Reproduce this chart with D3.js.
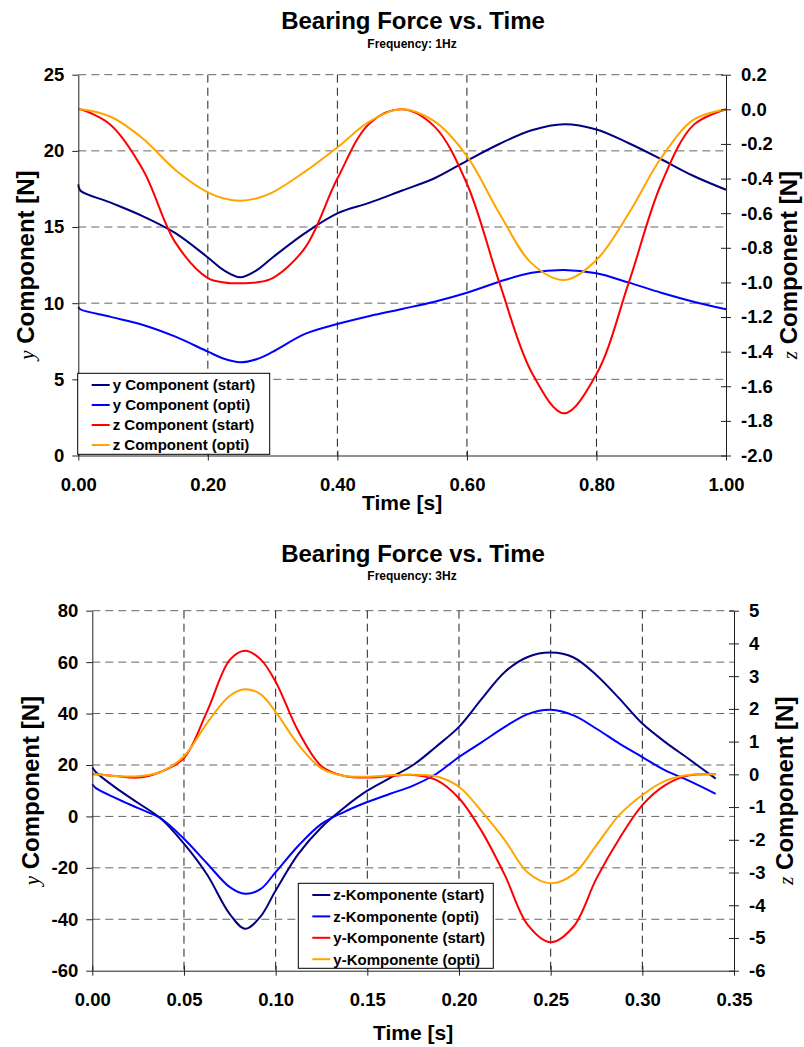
<!DOCTYPE html>
<html>
<head>
<meta charset="utf-8">
<script src="https://cdn.jsdelivr.net/npm/d3@7"></script>
<style>
  body { margin: 0; background: #fff; }
  svg { display: block; font-family: 'Liberation Sans', Arial, sans-serif; font-weight: bold; }
</style>
</head>
<body>
<svg id="chart" width="804" height="1047"></svg>
<script>
// ---- 1 Hz chart data ----
const time1 = [0, 0.003, 0.05, 0.1, 0.15, 0.2, 0.225, 0.25, 0.275, 0.3, 0.35, 0.4, 0.45, 0.5,
  0.55, 0.6, 0.65, 0.7, 0.75, 0.8, 0.85, 0.9, 0.95, 1.0]
const yStart1 = [17.8, 17.4, 16.6, 15.7, 14.6, 13.0, 12.15, 11.7, 12.15, 13.0, 14.6, 15.9, 16.6, 17.4,
  18.2, 19.35, 20.45, 21.35, 21.75, 21.4, 20.5, 19.45, 18.35, 17.45]
const yOpti1 = [9.75, 9.6, 9.1, 8.57, 7.8, 6.82, 6.35, 6.12, 6.32, 6.8, 7.98, 8.63, 9.16, 9.62,
  10.1, 10.69, 11.41, 12.0, 12.18, 11.96, 11.35, 10.69, 10.1, 9.6]
const zStart1 = [0, 0, -0.09, -0.35, -0.77, -0.975, -1.0, -1.005, -1.0, -0.975, -0.8, -0.4, -0.08, 0,
  -0.1, -0.43, -1.0, -1.52, -1.756, -1.53, -1.0, -0.43, -0.09, 0]
const zOpti1 = [0, 0, -0.043, -0.17, -0.35, -0.48, -0.515, -0.528, -0.515, -0.48, -0.36, -0.22, -0.07, 0,
  -0.07, -0.27, -0.6, -0.89, -0.986, -0.87, -0.6, -0.28, -0.06, 0]
const xTicks1 = [0, 0.2, 0.4, 0.6, 0.8, 1.0]
const leftTicks1 = [0, 5, 10, 15, 20, 25]
const rightTicks1 = [-2.0, -1.8, -1.6, -1.4, -1.2, -1.0, -0.8, -0.6, -0.4, -0.2, 0.0, 0.2]
const legend1 = ['y Component (start)', 'y Component (opti)', 'z Component (start)', 'z Component (opti)']

// ---- 3 Hz chart data ----
const time3 = [0, 0.002, 0.0125, 0.025, 0.0375, 0.05, 0.0625, 0.075, 0.0833, 0.0917, 0.1, 0.1125,
  0.125, 0.1375, 0.15, 0.1625, 0.175, 0.1875, 0.2, 0.2125, 0.225, 0.2375, 0.25, 0.2625, 0.275,
  0.2875, 0.3, 0.3125, 0.325, 0.34]
const zStart3 = [19, 17.2, 11.3, 5.2, -0.9, -10.6, -22.5, -38.0, -43.7, -39.0, -28.8, -14.5,
  -4.2, 3.5, 10.0, 15.0, 20.0, 27.1, 34.8, 45.8, 56.2, 62.0, 63.7, 61.8, 54.9,
  45.8, 36.1, 28.9, 22.5, 14.7]
const zOpti3 = [12.5, 11.0, 7.2, 3.2, -0.8, -8.7, -18.2, -27.5, -30.1, -28.3, -21.7, -11.3,
  -2.9, 1.8, 5.6, 8.8, 12.0, 16.5, 23.1, 28.9, 34.8, 39.8, 41.5, 39.3, 34.1,
  28.3, 23.1, 17.9, 14.0, 8.8]
const yStart3 = [0, 0, -0.05, -0.1, 0.08, 0.5, 1.91, 3.5, 3.78, 3.52, 2.83, 1.3,
  0.25, -0.05, -0.1, -0.05, -0.02, -0.17, -0.73, -1.75, -3.08, -4.6, -5.13, -4.65, -3.18,
  -1.96, -0.94, -0.33, -0.04, 0]
const yOpti3 = [0, 0, -0.05, -0.06, 0.08, 0.55, 1.56, 2.4, 2.6, 2.45, 1.91, 0.9,
  0.18, -0.05, -0.07, -0.03, -0.01, -0.06, -0.38, -1.14, -2.01, -3.0, -3.33, -3.05, -2.16,
  -1.24, -0.63, -0.2, -0.02, 0]
const xTicks3 = [0, 0.05, 0.1, 0.15, 0.2, 0.25, 0.3, 0.35]
const leftTicks3 = [-60, -40, -20, 0, 20, 40, 60, 80]
const rightTicks3 = [-6, -5, -4, -3, -2, -1, 0, 1, 2, 3, 4, 5]
const legend3 = ['z-Komponente (start)', 'z-Komponente (opti)', 'y-Komponente (start)', 'y-Komponente (opti)']

const colors = ['#000080', '#0000ff', '#ff0000', '#ffa500']

const svg = d3.select('#chart')

drawChart({
  title: 'Bearing Force vs. Time', subtitle: 'Frequency: 1Hz', titleY: 28.5, subY: 47.5,
  left: 78.3, right: 726, top: 74.7, bottom: 455.5,
  xDomain: [0, 1], xTicks: xTicks1, xFmt: d => d.toFixed(2),
  lDomain: [0, 25], lTicks: leftTicks1, lFmt: d => String(d),
  rDomain: [-2.0, 0.2], rTicks: rightTicks1, rFmt: d => d.toFixed(1),
  lLabel: ['y', ' Component [N]'], rLabel: ['z', ' Component [N]'],
  lLabelX: 34, rLabelX: 797, xLabelY: 510,
  time: time1,
  series: [
    { values: yStart1, axis: 'l' }, { values: yOpti1, axis: 'l' },
    { values: zStart1, axis: 'r' }, { values: zOpti1, axis: 'r' }
  ],
  legend: legend1, legendBox: [77.7, 373.3, 192, 81], legendStep: 20
})

drawChart({
  title: 'Bearing Force vs. Time', subtitle: 'Frequency: 3Hz', titleY: 562, subY: 580,
  left: 92.3, right: 734, top: 610.7, bottom: 970.7,
  xDomain: [0, 0.35], xTicks: xTicks3, xFmt: d => d.toFixed(2),
  lDomain: [-60, 80], lTicks: leftTicks3, lFmt: d => String(d),
  rDomain: [-6, 5], rTicks: rightTicks3, rFmt: d => String(d),
  lLabel: ['y', ' Component [N]'], rLabel: ['z', ' Component [N]'],
  lLabelX: 39, rLabelX: 793, xLabelY: 1040,
  time: time3,
  series: [
    { values: zStart3, axis: 'l' }, { values: zOpti3, axis: 'l' },
    { values: yStart3, axis: 'r' }, { values: yOpti3, axis: 'r' }
  ],
  legend: legend3, legendBox: [298.3, 883.3, 195, 85], legendStep: 21.4
})

function drawChart(c) {
  const g = svg.append('g')
  const x = d3.scaleLinear().domain(c.xDomain).range([c.left, c.right])
  const yl = d3.scaleLinear().domain(c.lDomain).range([c.bottom, c.top])
  const yr = d3.scaleLinear().domain(c.rDomain).range([c.bottom, c.top])
  const midX = (c.left + c.right) / 2
  const midY = (c.top + c.bottom) / 2

  // titles
  g.append('text').attr('x', 413).attr('y', c.titleY).attr('text-anchor', 'middle')
    .attr('font-size', 24).text(c.title)
  g.append('text').attr('x', 412).attr('y', c.subY).attr('text-anchor', 'middle')
    .attr('font-size', 12).text(c.subtitle)

  // grid
  g.append('g').selectAll('line').data(c.lTicks.slice(1)).join('line')
    .attr('x1', c.left).attr('x2', c.right)
    .attr('y1', d => yl(d)).attr('y2', d => yl(d))
    .attr('stroke', '#666').attr('stroke-width', 1).attr('stroke-dasharray', '8,5')
  g.append('g').selectAll('line').data(c.xTicks.slice(1, -1)).join('line')
    .attr('x1', d => x(d)).attr('x2', d => x(d))
    .attr('y1', c.top).attr('y2', c.bottom)
    .attr('stroke', '#222').attr('stroke-width', 1).attr('stroke-dasharray', '8,5')

  // series
  c.series.forEach((s, i) => {
    const ys = s.axis === 'l' ? yl : yr
    const line = d3.line()
      .x((d, k) => x(c.time[k]))
      .y(d => ys(d))
      .curve(d3.curveCatmullRom.alpha(0.5))
    g.append('path').datum(s.values).attr('d', line)
      .attr('fill', 'none').attr('stroke', colors[i]).attr('stroke-width', 2)
  })

  // axes
  const ax = g.append('g').attr('transform', `translate(0,${c.bottom})`)
    .call(d3.axisBottom(x).tickValues(c.xTicks).tickFormat(c.xFmt).tickSize(5).tickSizeOuter(0).tickPadding(17))
  ax.selectAll('.tick line').attr('y1', -5)
  const al = g.append('g').attr('transform', `translate(${c.left},0)`)
    .call(d3.axisLeft(yl).tickValues(c.lTicks).tickFormat(c.lFmt).tickSize(6).tickSizeOuter(0).tickPadding(8))
  const ar = g.append('g').attr('transform', `translate(${c.right},0)`)
    .call(d3.axisRight(yr).tickValues(c.rTicks).tickFormat(c.rFmt).tickSize(5).tickSizeOuter(0).tickPadding(10))
  ar.selectAll('.tick line').attr('x1', -5)
  ;[ax, al, ar].forEach(a => {
    a.attr('font-family', null).attr('font-size', 18.5)
    a.selectAll('path, line').attr('stroke', '#222')
    a.selectAll('text').attr('fill', '#000')
  })

  // axis titles
  g.append('text').attr('x', midX).attr('y', c.xLabelY).attr('text-anchor', 'middle')
    .attr('font-size', 21).text('Time [s]')
  ;[[c.lLabel, c.lLabelX], [c.rLabel, c.rLabelX]].forEach(([lab, lx]) => {
    const t = g.append('text').attr('transform', `translate(${lx},${midY}) rotate(-90)`)
      .attr('text-anchor', 'middle').attr('font-size', 24)
    t.append('tspan').attr('font-family', "'Liberation Serif', 'Times New Roman', serif")
      .attr('font-style', 'italic').attr('font-weight', 'normal').attr('font-size', 21).text(lab[0])
    t.append('tspan').text(lab[1])
  })

  // legend
  const [lx, ly, lw, lh] = c.legendBox
  const lg = g.append('g')
  lg.append('rect').attr('x', lx).attr('y', ly).attr('width', lw).attr('height', lh)
    .attr('fill', '#fff').attr('stroke', '#000').attr('stroke-width', 1)
  c.legend.forEach((name, i) => {
    const cy = ly + 11.7 + i * c.legendStep
    lg.append('line').attr('x1', lx + 14).attr('x2', lx + 32).attr('y1', cy).attr('y2', cy)
      .attr('stroke', colors[i]).attr('stroke-width', 2)
    lg.append('text').attr('x', lx + 35).attr('y', cy + 5.3).attr('font-size', 15).text(name)
  })
}
</script>
</body>
</html>
